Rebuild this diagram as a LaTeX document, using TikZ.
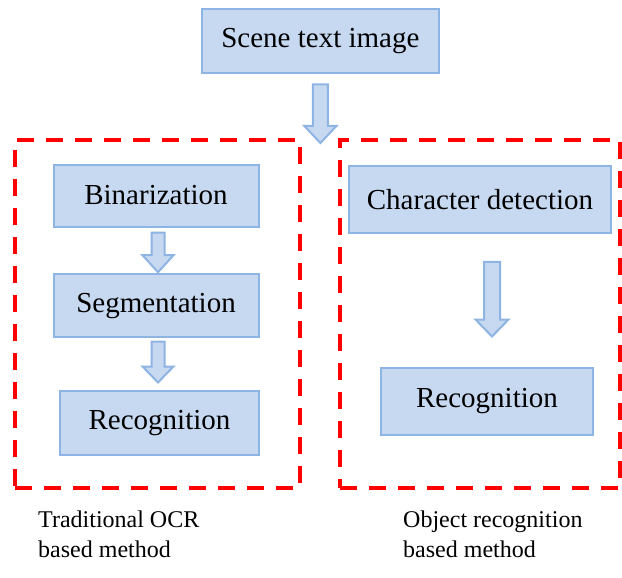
\documentclass[tikz,border=0pt]{standalone}
\usepackage{fontspec}
\setmainfont{Liberation Serif}
\usepackage{tikz}
\usetikzlibrary{arrows.meta,positioning,calc}

\definecolor{boxfill}{HTML}{C6D9F1}
\definecolor{boxline}{HTML}{8EB4E3}
\definecolor{groupred}{HTML}{FF0000}

% hollow block arrow: start, tip, shaft half width, head half width, head length
\newcommand\blockarr[5]{%
  \draw[blockarrow] let \p1=(#1), \p2=(#2) in
    (\x1-#3pt,\y1) -- (\x1+#3pt,\y1) -- (\x1+#3pt,\y2+#5pt) -- (\x1+#4pt,\y2+#5pt)
    -- (\x1,\y2) -- (\x1-#4pt,\y2+#5pt) -- (\x1-#3pt,\y2+#5pt) -- cycle;}

\begin{document}
\begin{tikzpicture}[
  x=1pt,y=-1pt,
  stage/.style={draw=boxline,line width=2pt,fill=boxfill,align=center,inner sep=2pt,
    font=\fontsize{29}{34}\selectfont},
  group/.style={draw=groupred,line width=4pt,dash pattern=on 17pt off 12pt,inner sep=0pt},
  caption/.style={align=left,inner sep=0pt,anchor=north west,font=\fontsize{24}{30}\selectfont},
  blockarrow/.style={draw=boxline,line width=2pt,fill=boxfill,line join=miter}
]
  \useasboundingbox (0,0) rectangle (622,578);

  % dashed frames of the two methods
  \node[group,minimum width=285pt,minimum height=348pt] (oldbox) at (157.5,314) {};
  \node[group,minimum width=280pt,minimum height=348pt] (objbox) at (480,314) {};

  \node[stage,minimum width=237pt,minimum height=64pt] (scene) at (320.4,41.3) {Scene text image};
  \coordinate (split) at (320.4,143);

  % traditional OCR pipeline
  \node[stage,minimum width=205pt,minimum height=62pt] (binar) at (156,195.5) {Binarization};
  \node[stage,minimum width=205pt,minimum height=63pt] (segm) at (156,305.7) {Segmentation};
  \node[stage,minimum width=199pt,minimum height=64pt] (recogA) at (159.5,423) {Recognition};

  % object recognition pipeline
  \node[stage,minimum width=262pt,minimum height=67pt] (chardet) at (480,199.4) {Character detection};
  \node[stage,minimum width=212pt,minimum height=67pt] (recogB) at (487,401) {Recognition};

  \blockarr{$(scene.south)+(0,10)$}{split}{7.5}{16}{17}
  \blockarr{$(binar.south)+(2,5)$}{$(segm.north)+(2,-1)$}{6.5}{15.5}{17}
  \blockarr{$(segm.south)+(2,3.5)$}{$(recogA.north)+(0,-7.5)$}{6.5}{15.5}{16}
  \blockarr{$(chardet.south)+(12,28)$}{$(recogB.north)+(5,-30)$}{8}{16.5}{17}

  \node[caption] (oldcap) at (38,511) {Traditional OCR\\based method};
  \node[caption] (objcap) at (403,511) {Object recognition\\based method};
\end{tikzpicture}
\end{document}
